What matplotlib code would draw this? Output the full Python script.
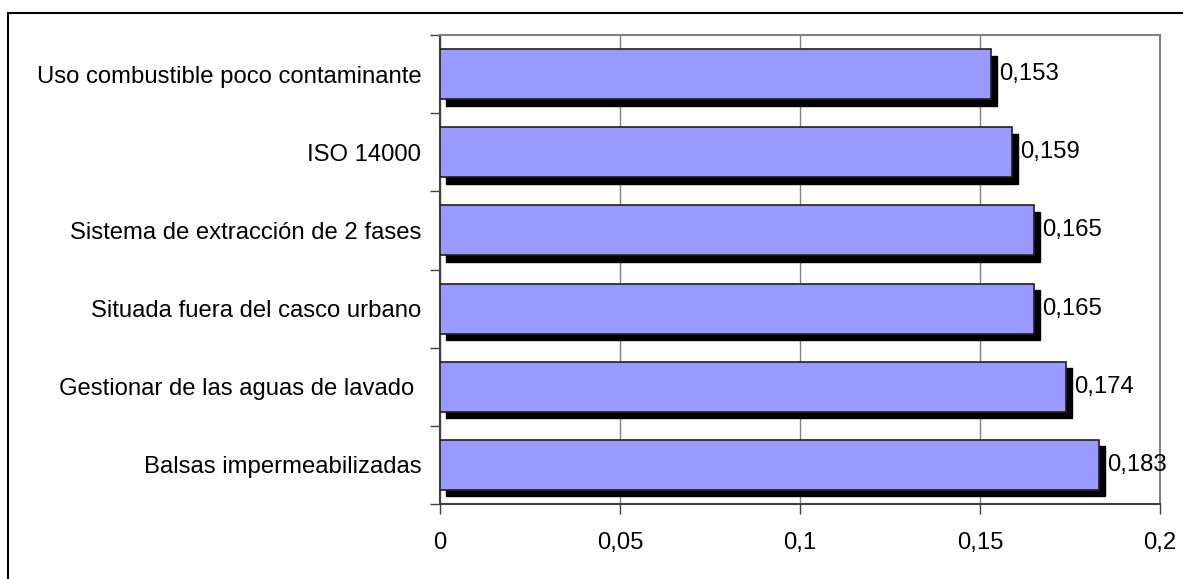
import matplotlib
matplotlib.use("Agg")
import matplotlib.pyplot as plt
import matplotlib.transforms as mtransforms
from matplotlib.patches import Rectangle
import numpy as np

plt.rcParams['font.family'] = ['Liberation Sans', 'DejaVu Sans']

# categories from bottom to top, as drawn
categories = [
    "Balsas impermeabilizadas",
    "Gestionar de las aguas de lavado ",
    "Situada fuera del casco urbano",
    "Sistema de extracción de 2 fases",
    "ISO 14000",
    "Uso combustible poco contaminante",
]
values = [0.183, 0.174, 0.165, 0.165, 0.159, 0.153]
x_ticks = [0, 0.05, 0.1, 0.15, 0.2]
x_tick_labels = ["0", "0,05", "0,1", "0,15", "0,2"]

fig = plt.figure(figsize=(11.83, 5.79), dpi=100)
ax = fig.add_axes([440 / 1183, 1 - 504 / 579, 720 / 1183, 469 / 579])

y = np.arange(len(categories))
fs = 17.2

# shadow: same bars shifted right and down
shadow = mtransforms.offset_copy(ax.transData, fig=fig, x=6, y=-6.5, units='dots')
ax.barh(y, values, height=0.64, color='black', edgecolor='black',
        transform=shadow, zorder=2)
bars = ax.barh(y, values, height=0.64, color='#9999FF', edgecolor='#202020',
               linewidth=1.2, zorder=3)

for yi, v in zip(y, values):
    ax.annotate(f"{v:.3f}".replace('.', ','), xy=(v, yi), xytext=(8, 0),
                textcoords='offset pixels', va='center', ha='left',
                fontsize=fs, zorder=4)

ax.set_xlim(0, 0.2)
ax.set_ylim(-0.5, len(categories) - 0.5)
ax.set_xticks(x_ticks)
ax.set_xticklabels(x_tick_labels, fontsize=fs)
ax.set_yticks(y)
ax.set_yticklabels(categories, fontsize=fs)
ax.set_yticks(np.arange(len(categories) + 1) - 0.5, minor=True)

ax.tick_params(axis='y', which='major', length=0, pad=13.5)
ax.tick_params(axis='y', which='minor', length=7, width=1, color='#404040')
ax.tick_params(axis='x', which='major', length=7, width=1, color='#404040',
               pad=13.5)

ax.xaxis.grid(True, color='#808080', linewidth=1)
ax.set_axisbelow(True)

for side in ['top', 'right']:
    ax.spines[side].set_color('#808080')
    ax.spines[side].set_linewidth(1.5)
for side in ['left', 'bottom']:
    ax.spines[side].set_color('#404040')
    ax.spines[side].set_linewidth(1.5)

# outer chart frame (only top and left are inside the picture)
frame = Rectangle((8 / 1183, -0.2), 1.3, 1 - 13 / 579 + 0.2,
                  transform=fig.transFigure, fill=False,
                  edgecolor='black', linewidth=1.5)
fig.patches.append(frame)

fig.savefig("out.png", dpi=100)
